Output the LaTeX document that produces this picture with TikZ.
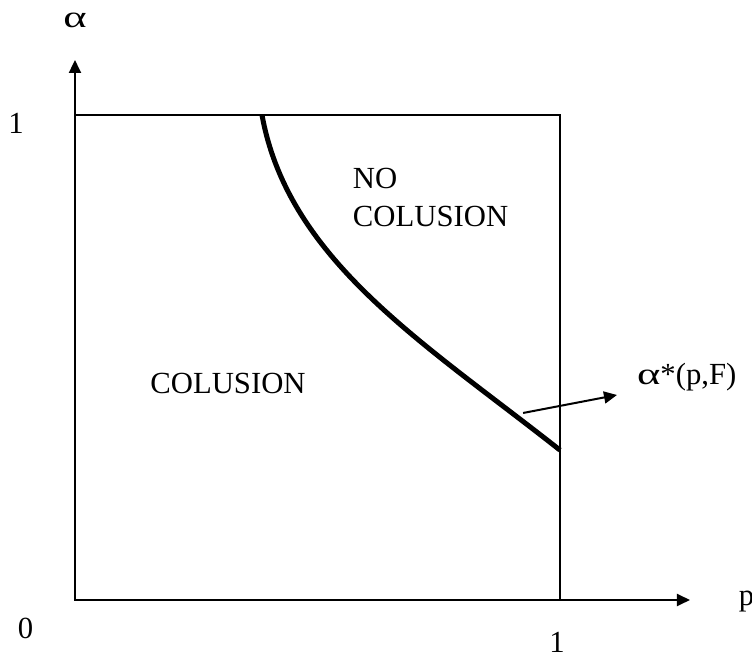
\documentclass[tikz,border=0pt]{standalone}
\usepackage{fontspec}
\usepackage{graphicx}
\setmainfont{Liberation Serif}
\usetikzlibrary{arrows.meta}
\newcommand{\alf}{\scalebox{1.45}[1.0]{α}}

\begin{document}
\begin{tikzpicture}[x=242.5pt, y=242.5pt, line width=1pt,
    every node/.style={font=\fontsize{15.35}{19}\selectfont, inner sep=0pt},
    axisarrow/.style={-{Triangle[length=6.5pt,width=6pt]}},
    frontier/.style={line width=2.5pt}]
    \useasboundingbox (-0.1546,-0.1237) rectangle (1.3959,1.2371);
    % axes
    \coordinate (O) at (0,0);
    \coordinate (xend) at (1.268,0);
    \coordinate (yend) at (0,1.1134);
    \draw[axisarrow] (O) -- (xend);
    \draw[axisarrow] (O) -- (yend);
    \draw (O) rectangle (1,1);
    \node (alab) at (0,1.194) {\alf};
    \node[anchor=west] (plab) at (1.367,-0.004) {p};
    \node (zero) at (-0.1021,-0.0577) {0};
    \node (onex) at (0.9938,-0.088) {1};
    \node (oney) at (-0.1216,0.9835) {1};
    % frontier alpha*(p,F)
    \coordinate (ftop) at (0.3856,1);
    \coordinate (fend) at (1,0.309);
    \draw[frontier] (ftop) .. controls (0.44,0.70) and (0.72,0.53) .. (fend);
    \coordinate (astart) at (0.924,0.3856);
    \coordinate (aend) at (1.1175,0.4227);
    \draw[axisarrow] (astart) -- (aend);
    \node[anchor=west] (frontlab) at (1.157,0.4598) {\alf*(p,F)};
    % regions
    \node (col) at (0.3155,0.4454) {COLUSION};
    \node[anchor=west, align=left] (nocol) at (0.5711,0.8289) {NO\\COLUSION};
\end{tikzpicture}
\end{document}
